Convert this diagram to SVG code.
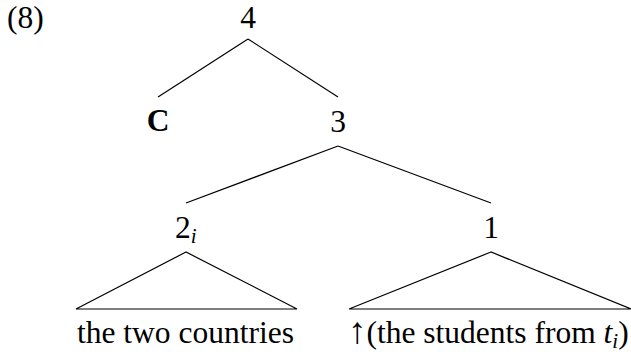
<svg xmlns="http://www.w3.org/2000/svg" width="631" height="356" viewBox="0 0 631 356">
<style>
text{font-family:"Liberation Serif","Times New Roman",serif;font-size:31.5px;fill:#000}
.c{text-anchor:middle}
.b{font-weight:bold}
.sub{font-style:italic;font-size:21px}
.arr{font-size:37px}
line,polygon{stroke:#000;stroke-width:1.2;fill:none}
</style>
<rect width="631" height="356" fill="#fff"/>
<text x="7" y="28">(8)</text>
<g id="connectors">
<line x1="248" y1="39" x2="158" y2="97"/>
<line x1="248" y1="39" x2="338" y2="97"/>
<line x1="338" y1="146" x2="186" y2="203"/>
<line x1="338" y1="146" x2="491" y2="203"/>
</g>
<g id="n4"><text class="c" x="248" y="28">4</text></g>
<g id="nC"><text class="c b" x="158" y="131">C</text></g>
<g id="n3"><text class="c" x="338" y="132">3</text></g>
<g id="n2"><text x="175" y="238">2<tspan class="sub" dy="5">i</tspan></text></g>
<g id="n1"><text class="c" x="491" y="238">1</text></g>
<g id="t2">
<polygon points="186,252 76,309 297,309"/>
<text x="77" y="343">the two countries</text>
</g>
<g id="t1">
<polygon points="491,252 349,309 631,309"/>
<text x="348" y="343"><tspan class="arr">↑</tspan>(the students from <tspan font-style="italic">t</tspan><tspan class="sub" dy="5">i</tspan><tspan dy="-5">)</tspan></text>
</g>
</svg>
